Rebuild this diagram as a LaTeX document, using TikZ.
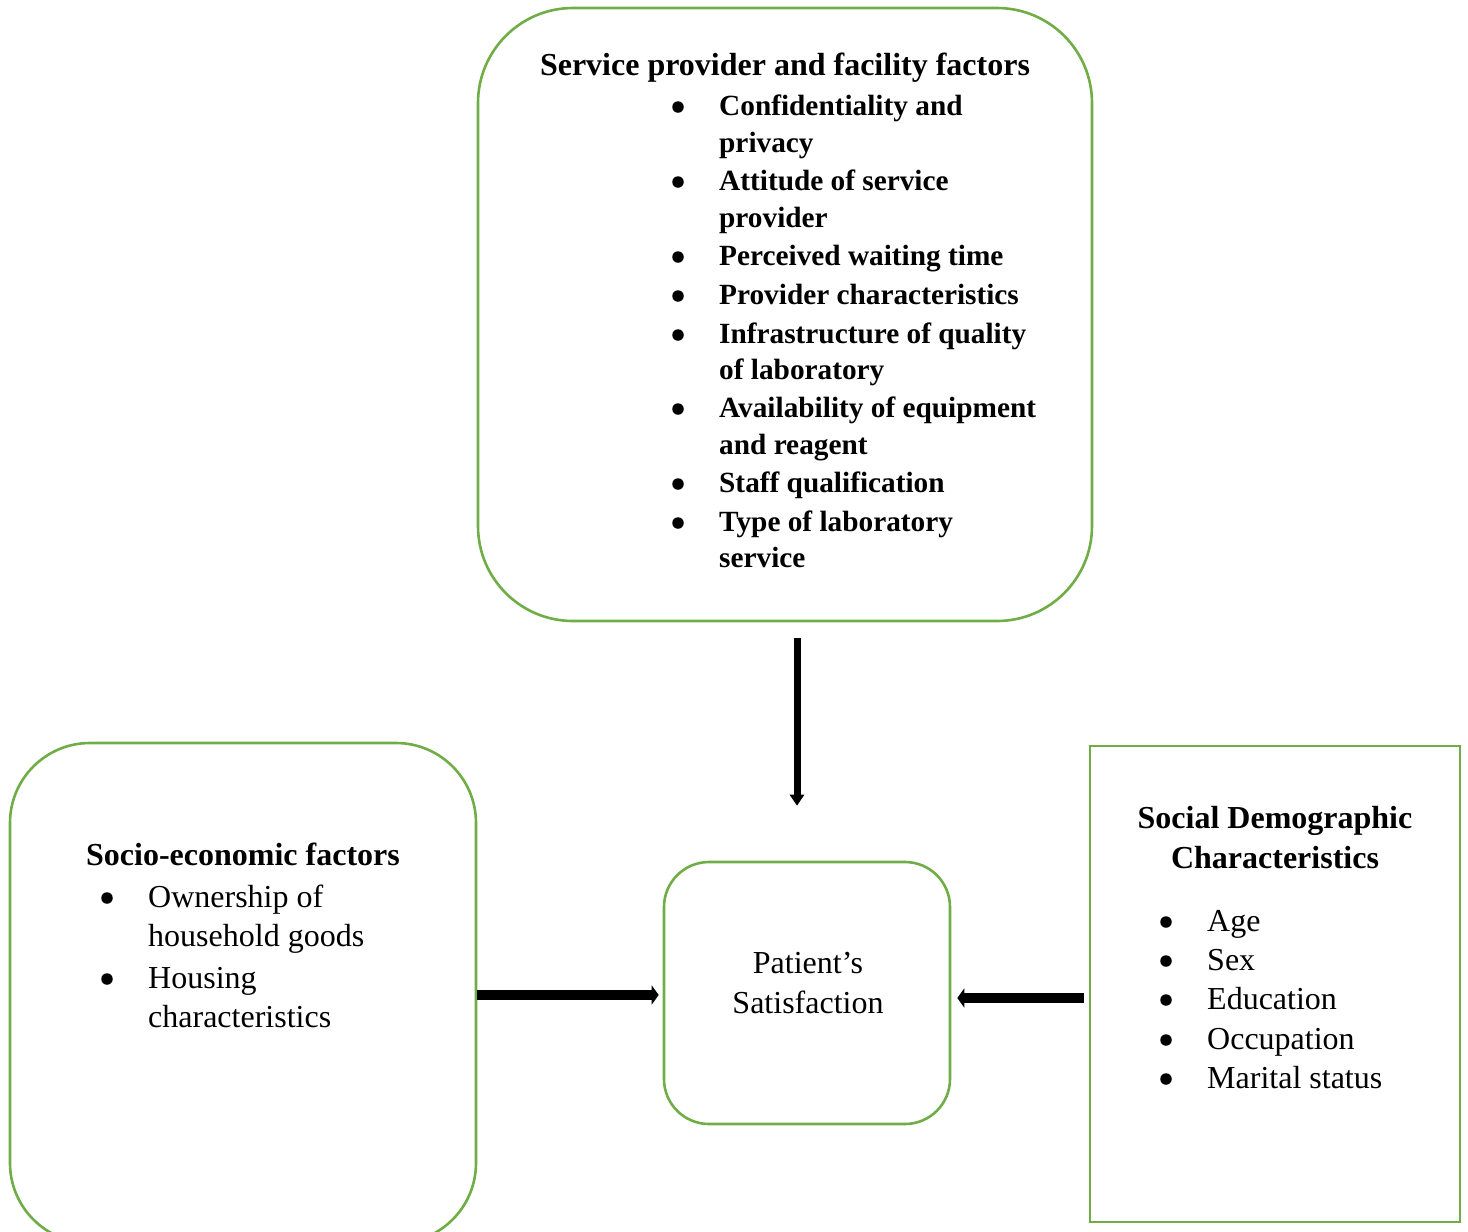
\documentclass[tikz,border=0pt]{standalone}
\usepackage{fontspec}
\setmainfont{Liberation Serif}
\usetikzlibrary{arrows.meta}
\definecolor{boxgreen}{HTML}{70AD47}
\tikzset{
  gbox/.style={draw=boxgreen, line width=2.6pt, inner sep=0pt, fill=none},
  bt/.style={font=\fontsize{29.3}{35}\selectfont\bfseries, anchor=base west, inner sep=0pt},
  bh/.style={font=\fontsize{32}{38}\selectfont\bfseries, anchor=base, inner sep=0pt},
  rt/.style={font=\fontsize{32}{38}\selectfont, anchor=base west, inner sep=0pt},
  rh/.style={font=\fontsize{32}{38}\selectfont, anchor=base, inner sep=0pt},
  bul/.style={circle, fill=black, inner sep=0pt, minimum size=11.5pt},
  fatarrow/.style={line width=10pt, -{Triangle[width=19pt,length=7pt]}},
  thinarrow/.style={line width=7pt, -{Triangle[width=14pt,length=11pt]}}
}
\begin{document}
\begin{tikzpicture}[x=1pt,y=-1pt]
\useasboundingbox (0,0) rectangle (1468,1232);
\begin{scope}
\clip (0,0) rectangle (1468,1232);
% boxes
\node[gbox, rounded corners=95pt, minimum width=614pt, minimum height=613pt] (spf) at (785,314.5) {};
\node[gbox, rounded corners=80pt, minimum width=466pt, minimum height=500pt] (sef) at (243,993) {};
\node[gbox, rounded corners=45pt, minimum width=286pt, minimum height=262pt] (ps) at (807,993) {};
\node[gbox, minimum width=370pt, minimum height=476pt] (sdc) at (1275,984) {};
\end{scope}

% top box text
\node[bh] (spfh) at (785,75) {Service provider and facility factors};
\foreach \yy/\nm in {115/b1,190/b2,265/b3,304/b4,343/b5,417/b6,492/b7,531/b8}
  \node[bul] (\nm) at (678,\yy-8) {};
\node[bt] (s1) at (719,115) {Confidentiality and};
\node[bt] (s2) at (719,152) {privacy};
\node[bt] (s3) at (719,190) {Attitude of service};
\node[bt] (s4) at (719,227) {provider};
\node[bt] (s5) at (719,265) {Perceived waiting time};
\node[bt] (s6) at (719,304) {Provider characteristics};
\node[bt] (s7) at (719,343) {Infrastructure of quality};
\node[bt] (s8) at (719,379) {of laboratory};
\node[bt] (s9) at (719,417) {Availability of equipment};
\node[bt] (s10) at (719,454) {and reagent};
\node[bt] (s11) at (719,492) {Staff qualification};
\node[bt] (s12) at (719,531) {Type of laboratory};
\node[bt] (s13) at (719,567) {service};

% left box text
\node[bh] (sefh) at (243,865) {Socio-economic factors};
\node[bul] (lb1) at (107,898) {};
\node[bul] (lb2) at (107,979) {};
\node[rt] (l1) at (148,907) {Ownership of};
\node[rt] (l2) at (148,946) {household goods};
\node[rt] (l3) at (148,988) {Housing};
\node[rt] (l4) at (148,1027) {characteristics};

% center text
\node[rh] (c1) at (808,973) {Patient’s};
\node[rh] (c2) at (808,1013) {Satisfaction};

% right box text
\node[bh] (sdch1) at (1275,828) {Social Demographic};
\node[bh] (sdch2) at (1275,868) {Characteristics};
\foreach \yy/\nm/\tx in {931/r1/Age,970/r2/Sex,1009/r3/Education,1049/r4/Occupation,1088/r5/Marital status}{
  \node[bul] (\nm b) at (1166,\yy-9) {};
  \node[rt] (\nm) at (1207,\yy) {\tx};
}

% connectors
\coordinate (dstart) at (spf.south -| 797,0);
\coordinate (dend) at (ps.north -| 797,0);
\draw[thinarrow, shorten <=16pt, shorten >=55pt] (dstart) -- (dend);
\coordinate (rs) at (sef.east |- 0,995);
\coordinate (re) at (ps.west |- 0,995);
\draw[fatarrow, shorten >=4pt] (rs) -- (re);
\coordinate (ls) at (sdc.west |- 0,998);
\coordinate (le) at (ps.east |- 0,998);
\draw[fatarrow, shorten <=5pt, shorten >=6pt] (ls) -- (le);
\end{tikzpicture}
\end{document}
